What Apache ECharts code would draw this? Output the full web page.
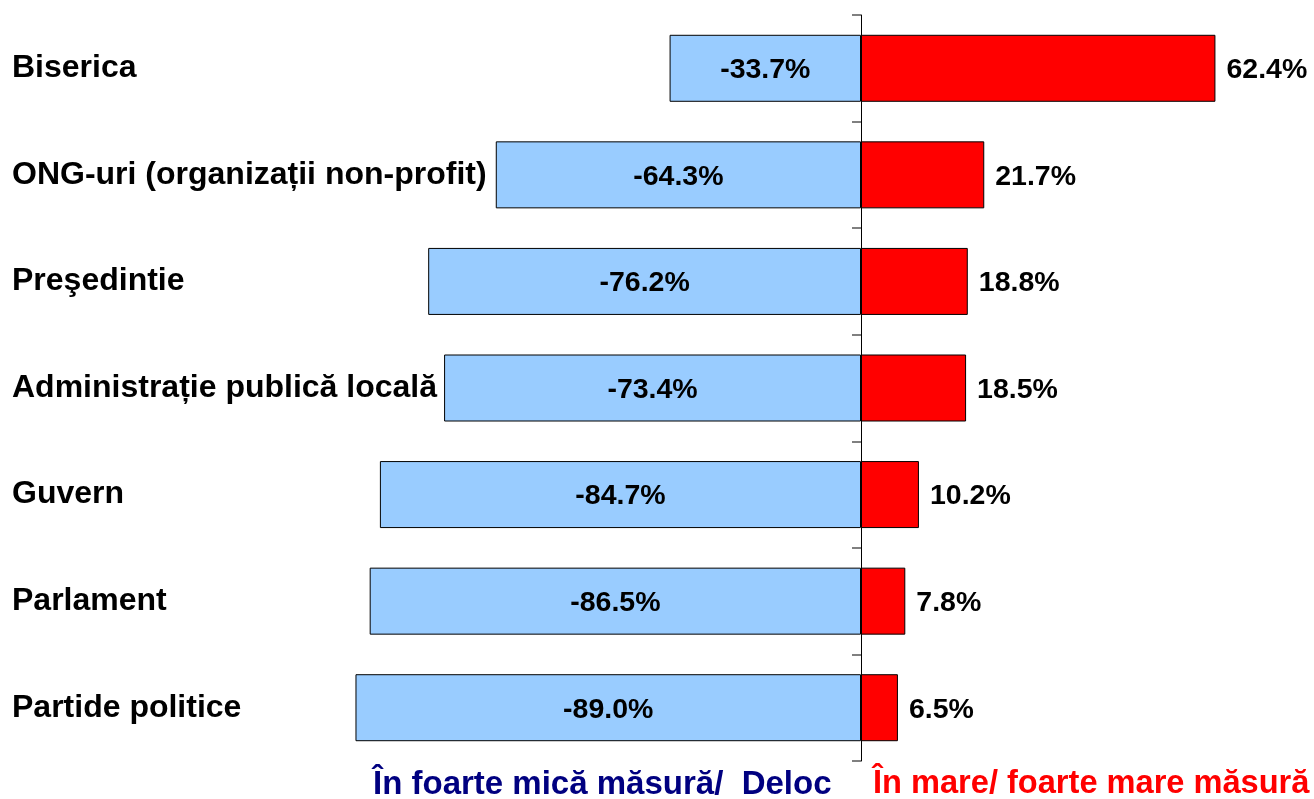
<!DOCTYPE html>
<html>
<head>
<meta charset="utf-8">
<script src="https://cdn.jsdelivr.net/npm/echarts@6/dist/echarts.min.js"></script>
<style>
html,body{margin:0;padding:0;background:#fff;}
#main{width:1314px;height:799px;}
</style>
</head>
<body>
<div id="main"></div>
<script>
//categorii
var categories=['Biserica','ONG-uri (organizații non-profit)','Preşedintie','Administrație publică locală','Guvern','Parlament','Partide politice'];
//in foarte mica masura / deloc
var lowValues=[-33.7,-64.3,-76.2,-73.4,-84.7,-86.5,-89.0];
//in mare / foarte mare masura
var highValues=[62.4,21.7,18.8,18.5,10.2,7.8,6.5];
var lowName='În foarte mică măsură/  Deloc';
var highName='În mare/ foarte mare măsură';

var fontMain='Liberation Sans, Arial, sans-serif';

var myChart=echarts.init(document.getElementById('main'));
var option={
    backgroundColor:'#ffffff',
    animation:false,
    grid:{
        left:293,
        right:27,
        top:15,
        bottom:38
    },
    xAxis:{
        type:'value',
        min:-100,
        max:75,
        splitLine:{show:false},
        axisLine:{show:false},
        axisTick:{show:false},
        axisLabel:{show:false}
    },
    yAxis:[
        {
            type:'category',
            inverse:true,
            data:categories,
            axisLine:{
                show:true,
                onZero:true,
                lineStyle:{color:'#000',width:1}
            },
            axisTick:{
                show:true,
                length:9,
                lineStyle:{color:'#808080',width:2}
            },
            axisLabel:{show:false}
        },
        {
            type:'category',
            inverse:true,
            position:'left',
            data:categories,
            axisLine:{show:false,onZero:false},
            axisTick:{show:false},
            axisLabel:{
                align:'left',
                margin:281,
                color:'#000',
                fontSize:32,
                fontWeight:'bold',
                fontFamily:fontMain,
                padding:[0,0,4,0]
            }
        }
    ],
    series:[
        {
            name:lowName,
            type:'bar',
            stack:'total',
            yAxisIndex:0,
            barWidth:67,
            data:lowValues,
            itemStyle:{color:'#99CCFF',borderColor:'#000',borderWidth:1},
            label:{
                show:true,
                position:'inside',
                offset:[0,2],
                color:'#000',
                fontSize:28.5,
                fontWeight:'bold',
                fontFamily:fontMain,
                formatter:function (p) {return p.value.toFixed(1)+'%';}
            }
        },
        {
            name:highName,
            type:'bar',
            stack:'total',
            yAxisIndex:0,
            barWidth:67,
            data:highValues,
            itemStyle:{color:'#FF0000',borderColor:'#000',borderWidth:1},
            label:{
                show:true,
                position:'right',
                distance:11,
                offset:[0,2],
                color:'#000',
                fontSize:28.5,
                fontWeight:'bold',
                fontFamily:fontMain,
                formatter:function (p) {return p.value.toFixed(1)+'%';}
            }
        }
    ],
    graphic:[
        {
            type:'text',
            left:373,
            top:768,
            style:{
                text:lowName,
                fill:'#000080',
                font:'bold 33px '+fontMain
            }
        },
        {
            type:'text',
            left:873,
            top:768,
            style:{
                text:highName,
                fill:'#FF0000',
                font:'bold 32.6px '+fontMain
            }
        }
    ]
};
myChart.setOption(option);
</script>
</body>
</html>
